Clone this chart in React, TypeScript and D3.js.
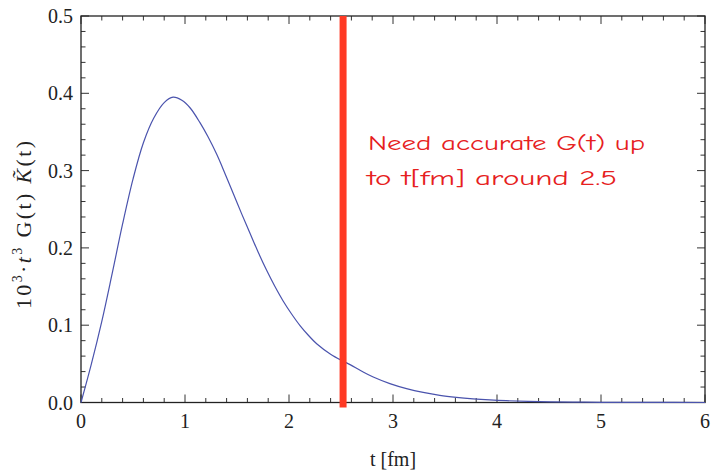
import React from "react";
import * as d3 from "d3";

const tValues = [0, 0.1, 0.2, 0.3, 0.4, 0.5, 0.6, 0.7, 0.8, 0.885, 0.97, 1.05, 1.144, 1.22, 1.305, 1.385, 1.465, 1.545, 1.625, 1.705, 1.785, 1.865, 1.945, 2.025, 2.106, 2.186, 2.266, 2.4, 2.52, 2.587, 2.7, 2.81, 2.97, 3.13, 3.29, 3.45, 3.61, 3.77, 3.93, 4.09, 4.41, 4.73, 5.0, 5.5, 6.0];
const gValues = [0, 0.05, 0.105, 0.167, 0.231, 0.289, 0.336, 0.368, 0.388, 0.395, 0.391, 0.381, 0.362, 0.344, 0.321, 0.296, 0.27, 0.244, 0.219, 0.194, 0.171, 0.15, 0.131, 0.1145, 0.0995, 0.087, 0.076, 0.0625, 0.0535, 0.049, 0.0405, 0.033, 0.0245, 0.018, 0.013, 0.0092, 0.0066, 0.0047, 0.0033, 0.0023, 0.0011, 0.0005, 0.00025, 0.0001, 0.00003];

const xTickLabels = ["0", "1", "2", "3", "4", "5", "6"];
const yTickLabels = ["0.0", "0.1", "0.2", "0.3", "0.4", "0.5"];
const markerT = 2.52;
const noteLines = ["Need accurate G(t) up", "to t[fm] around 2.5"];

const W = 713, H = 472;
const L = 81, R = 705, T = 16, B = 402.5;

export default function App() {
  const x = d3.scaleLinear().domain([0, 6]).range([L, R]);
  const y = d3.scaleLinear().domain([0, 0.5]).range([B, T]);
  const pts = tValues.map((t, i) => [t, gValues[i]] as [number, number]);
  const line = d3.line<[number, number]>().x(d => x(d[0])).y(d => y(d[1])).curve(d3.curveCatmullRom.alpha(0.5));

  const xMinor = d3.range(0, 6.0001, 0.2).filter(v => Math.abs(v - Math.round(v)) > 1e-6);
  const yMinor = d3.range(0, 0.5001, 0.02).filter(v => Math.abs(v * 10 - Math.round(v * 10)) > 1e-6);
  const xMajor = xTickLabels.map(Number);
  const yMajor = yTickLabels.map(Number);
  const maj = 8, mnr = 4.5;
  const tickCol = "#333";
  const serif = "'Liberation Serif', 'Times New Roman', serif";

  return (
    <svg width={W} height={H} style={{ position: "absolute", left: 0, top: 0, background: "#fff" }}>
      <rect x={0} y={0} width={W} height={H} fill="#fff" />
      <g stroke={tickCol} strokeWidth={1}>
        {xMajor.map(v => (
          <g key={"xM" + v}>
            <line x1={x(v)} x2={x(v)} y1={B} y2={B - maj} />
            <line x1={x(v)} x2={x(v)} y1={T} y2={T + maj} />
          </g>
        ))}
        {xMinor.map(v => (
          <g key={"xm" + v}>
            <line x1={x(v)} x2={x(v)} y1={B} y2={B - mnr} />
            <line x1={x(v)} x2={x(v)} y1={T} y2={T + mnr} />
          </g>
        ))}
        {yMajor.map(v => (
          <g key={"yM" + v}>
            <line x1={L} x2={L + maj} y1={y(v)} y2={y(v)} />
            <line x1={R} x2={R - maj} y1={y(v)} y2={y(v)} />
          </g>
        ))}
        {yMinor.map(v => (
          <g key={"ym" + v}>
            <line x1={L} x2={L + mnr} y1={y(v)} y2={y(v)} />
            <line x1={R} x2={R - mnr} y1={y(v)} y2={y(v)} />
          </g>
        ))}
      </g>
      <rect x={L} y={T} width={R - L} height={B - T} fill="none" stroke="#222" strokeWidth={1.3} />
      <path d={line(pts) || ""} fill="none" stroke="#4a53ad" strokeWidth={1.2} />
      <line x1={x(markerT)} x2={x(markerT)} y1={T} y2={B + 5} stroke="#ff3a24" strokeWidth={7} />
      <g fontFamily={serif} fontSize={20} fill="#222">
        {xTickLabels.map((s, i) => (
          <text key={"xl" + s} x={x(xMajor[i])} y={428} textAnchor="middle">{s}</text>
        ))}
        {yTickLabels.map((s, i) => (
          <text key={"yl" + s} x={73} y={y(yMajor[i])} dy="0.35em" textAnchor="end">{s}</text>
        ))}
        <text x={(L + R) / 2} y={466} textAnchor="middle">t [fm]</text>
        <text transform="translate(31,225) rotate(-90)" textAnchor="middle" fontSize={22} textLength={168} lengthAdjust="spacing">
          <tspan>10</tspan>
          <tspan dy={-9} fontSize={14}>3</tspan>
          <tspan dy={9}>·</tspan>
          <tspan fontStyle="italic">t</tspan>
          <tspan dy={-9} fontSize={14}>3</tspan>
          <tspan dy={9}> G(t) </tspan>
          <tspan fontStyle="italic">{"K\u0303"}</tspan>
          <tspan>(t)</tspan>
        </text>
      </g>
      <g fontFamily="'Comic Sans MS', 'Comic Neue', 'DejaVu Sans', sans-serif" fontSize={20} fill="#e62020">
        <text x={368} y={150} textLength={277} lengthAdjust="spacingAndGlyphs">{noteLines[0]}</text>
        <text x={367} y={185} textLength={250} lengthAdjust="spacingAndGlyphs">{noteLines[1]}</text>
      </g>
    </svg>
  );
}
